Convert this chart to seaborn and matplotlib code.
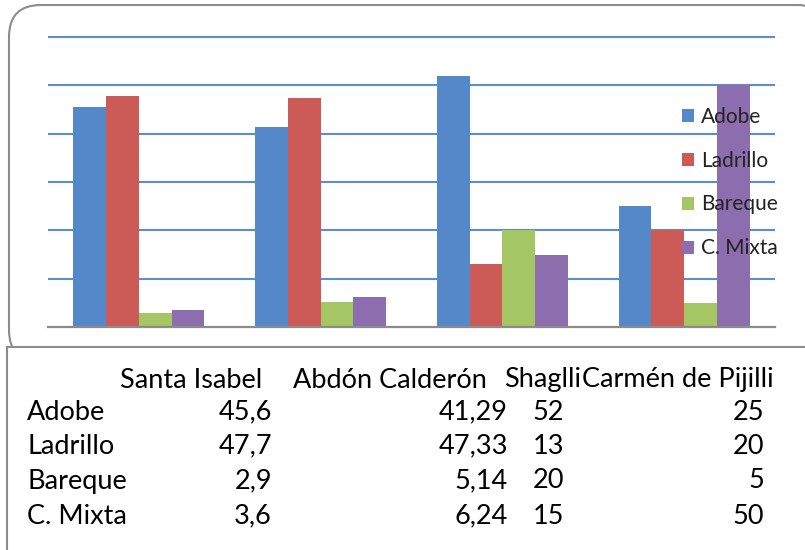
import matplotlib
matplotlib.use("Agg")
import matplotlib.pyplot as plt
from matplotlib.patches import FancyBboxPatch, Rectangle
from matplotlib.lines import Line2D
from matplotlib.transforms import IdentityTransform
import pandas as pd
import seaborn as sns

# Viviendas por material de construcción (%), por parroquia
parroquias = ["Santa Isabel", "Abdón Calderón", "Shaglli", "Carmén de Pijilli"]
materiales = ["Adobe", "Ladrillo", "Bareque", "C. Mixta"]
adobe = [45.6, 41.29, 52, 25]
ladrillo = [47.7, 47.33, 13, 20]
bareque = [2.9, 5.14, 20, 5]
mixta = [3.6, 6.24, 15, 50]
etiquetas = {
    "Adobe": ["45,6", "41,29", "52", "25"],
    "Ladrillo": ["47,7", "47,33", "13", "20"],
    "Bareque": ["2,9", "5,14", "20", "5"],
    "C. Mixta": ["3,6", "6,24", "15", "50"],
}
colores = ["#5588C8", "#CC5A56", "#A5C664", "#8C6DAD"]

series = {"Adobe": adobe, "Ladrillo": ladrillo, "Bareque": bareque, "C. Mixta": mixta}
df = pd.DataFrame(
    [(p, m, series[m][i]) for m in materiales for i, p in enumerate(parroquias)],
    columns=["parroquia", "material", "valor"],
)

sns.set_theme(style="white")
plt.rcParams["font.family"] = ["Lato", "DejaVu Sans"]

W, H = 805, 550
fig = plt.figure(figsize=(W / 100, H / 100), dpi=100)
px = IdentityTransform()

# outer rounded chart frame
frame = FancyBboxPatch((9, H - 362), 820, 357,
                       boxstyle="round,pad=0,rounding_size=32",
                       transform=px, facecolor="white", edgecolor="#8C8C8C",
                       linewidth=1.5, zorder=0)
fig.add_artist(frame)

# plot area
ymax = 62
unit = 290 / 60
left, right, base = 48, 775, 327
ax = fig.add_axes([left / W, (H - base) / H, (right - left) / W, ymax * unit / H])
ax.set_zorder(1)
ax.patch.set_alpha(0)

sns.barplot(data=df, x="parroquia", y="valor", hue="material",
            hue_order=materiales, order=parroquias, palette=colores,
            width=0.72, saturation=1, linewidth=0, ax=ax, legend=False)

ax.set_ylim(0, ymax)
ax.set_xlim(-0.5, 3.5)
for v in range(10, 61, 10):
    ax.axhline(v, color="#5A8ED0", linewidth=1.5, zorder=0)
ax.set_yticks([])
ax.set_xticks([])
ax.set_xlabel("")
ax.set_ylabel("")
for s in ["top", "right", "left"]:
    ax.spines[s].set_visible(False)
ax.spines["bottom"].set_color("#8C8C8C")
ax.spines["bottom"].set_linewidth(1.6)

# legend
handles = [Rectangle((0, 0), 1, 1, facecolor=c, edgecolor="none") for c in colores]
fig.legend(handles, materiales, loc="upper left",
           bbox_to_anchor=(667 / W, 1 - 92 / H), frameon=False,
           fontsize=15, handlelength=0.6, handleheight=0.6,
           handletextpad=0.35, labelspacing=1.15, labelcolor="#222222",
           borderpad=0.2)

# data table below the chart
tabla = Rectangle((7, -5), 820, H - 347 + 5, transform=px,
                  facecolor="white", edgecolor="none", zorder=2)
fig.add_artist(tabla)
fig.add_artist(Line2D([7, W], [H - 347, H - 347], transform=px,
                      color="#8C8C8C", linewidth=1.5, zorder=3))
fig.add_artist(Line2D([7, 7], [0, H - 347], transform=px,
                      color="#8C8C8C", linewidth=1.5, zorder=3))

fs = 19.5
encabezado_x = [191, 390, 543, 678]
for p, cx in zip(parroquias, encabezado_x):
    fig.text(cx / W, 1 - 380 / H, p, ha="center", va="center",
             fontsize=fs, color="black", zorder=4)

col_der = [272, 508, 564, 764]
filas_y = [412, 446, 481, 516]
for m, fy in zip(materiales, filas_y):
    fig.text(27 / W, 1 - fy / H, m, ha="left", va="center",
             fontsize=fs, color="black", zorder=4)
    for lab, cx in zip(etiquetas[m], col_der):
        fig.text(cx / W, 1 - fy / H, lab, ha="right", va="center",
                 fontsize=fs, color="black", zorder=4)

fig.savefig("out.png", dpi=100)
